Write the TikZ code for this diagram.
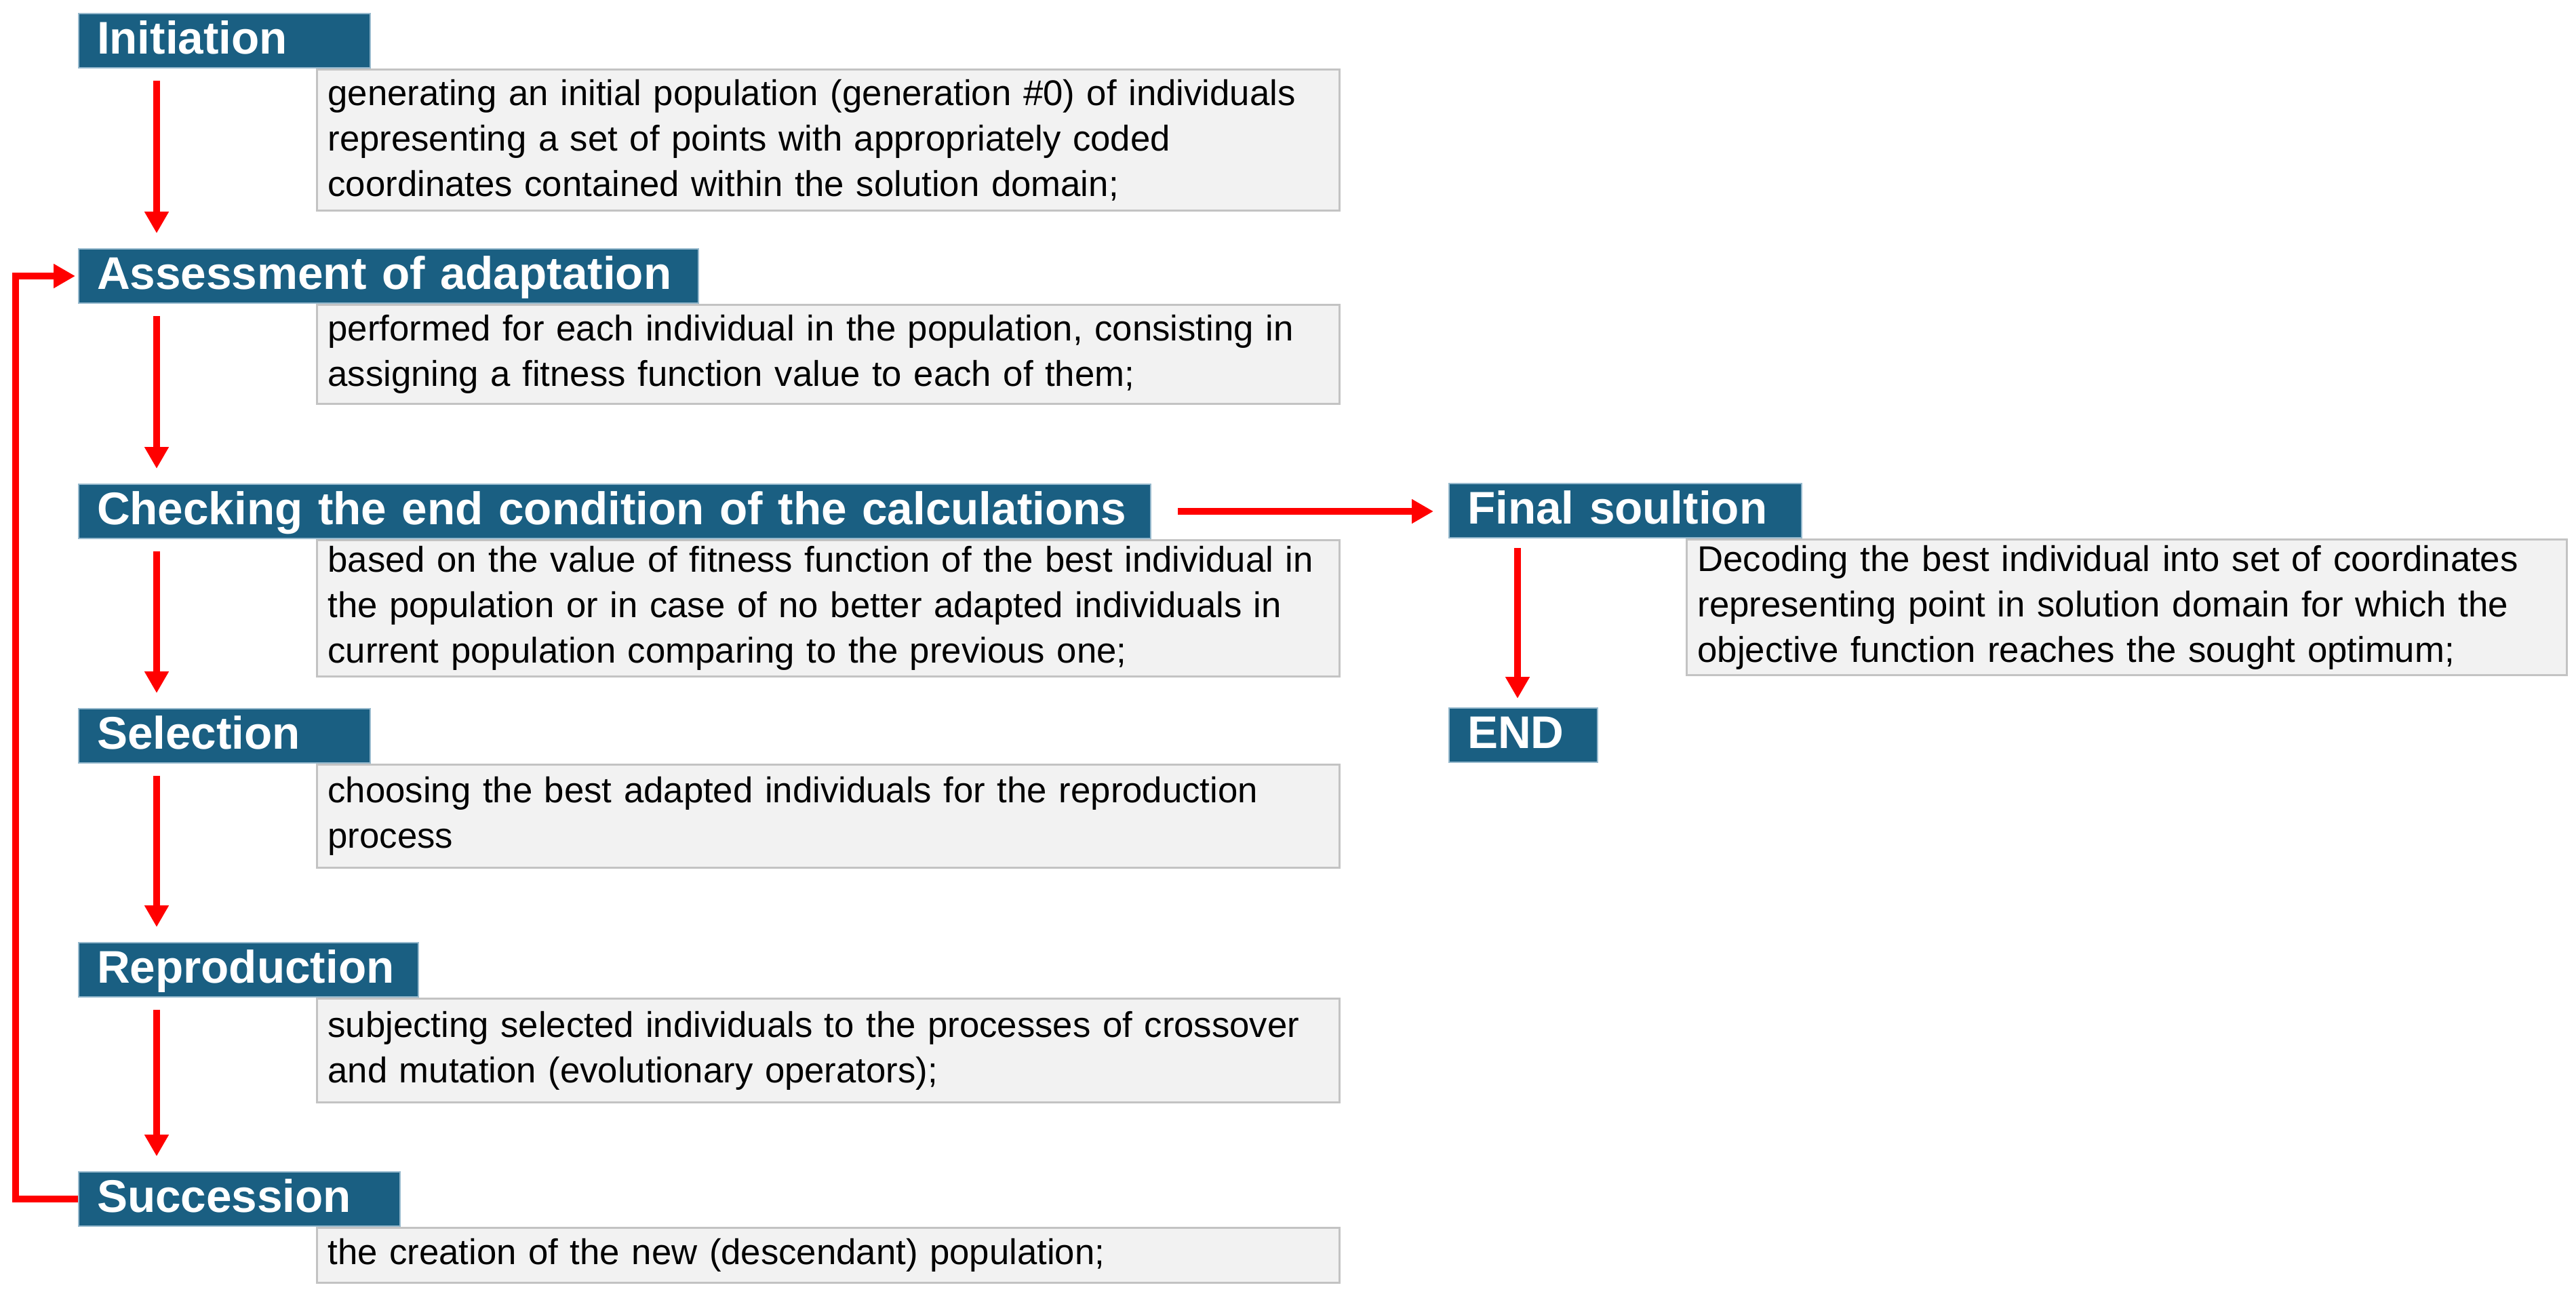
\documentclass[tikz,border=0pt]{standalone}
\usepackage{fontspec}
\setmainfont{Liberation Sans}
\usetikzlibrary{arrows.meta}

\definecolor{headblue}{RGB}{26,95,130}
\definecolor{headline}{RGB}{150,185,205}
\definecolor{boxgray}{RGB}{242,242,242}
\definecolor{boxline}{RGB}{195,195,195}

\tikzset{
	head/.style={rectangle, fill=headblue, draw=headline, line width=0.02cm, text=white, anchor=north west, align=left,
		font=\bfseries\fontsize{19.2}{23}\selectfont, inner xsep=0.27cm, inner ysep=0.09cm, text height=0.5cm, text depth=0.12cm},
	txt/.style={rectangle, fill=boxgray, draw=boxline, line width=0.03cm, anchor=north west, align=left,
		font=\fontsize{15}{19.1}\selectfont, inner xsep=0.16cm, inner ysep=0.06cm},
	flow/.style={red, line width=0.1cm, -{Triangle[length=0.32cm, width=0.34cm]}, shorten <=0.18cm, shorten >=0.22cm}
}

\begin{document}
\begin{tikzpicture}
	\useasboundingbox (0,0) rectangle (37.99,-19.10);

	% left column
	\node (init) [head, text width=3.76cm] at (1.15,-0.19) {Initiation};
	\node (inittxt) [txt, text width=14.76cm, minimum height=2.08cm] at ([xshift=3.51cm]init.south west)
	{generating an initial population (generation \#0) of individuals\\
	representing a set of points with appropriately coded\\
	coordinates contained within the solution domain;};

	\node (assess) [head, text width=8.60cm] at (1.15,-3.66) {Assessment of adaptation};
	\node (assesstxt) [txt, text width=14.76cm, minimum height=1.46cm] at ([xshift=3.51cm]assess.south west)
	{performed for each individual in the population, consisting in\\
	assigning a fitness function value to each of them;};

	\node (check) [head, text width=15.27cm] at (1.15,-7.13) {Checking the end condition of the calculations};
	\node (checktxt) [txt, text width=14.76cm, minimum height=2.01cm] at ([xshift=3.51cm]check.south west)
	{based on the value of fitness function of the best individual in\\
	the population or in case of no better adapted individuals in\\
	current population comparing to the previous one;};

	\node (select) [head, text width=3.76cm] at (1.15,-10.44) {Selection};
	\node (selecttxt) [txt, text width=14.76cm, minimum height=1.52cm] at ([xshift=3.51cm]select.south west)
	{choosing the best adapted individuals for the reproduction\\
	process};

	\node (repro) [head, text width=4.47cm] at (1.15,-13.89) {Reproduction};
	\node (reprotxt) [txt, text width=14.76cm, minimum height=1.53cm] at ([xshift=3.51cm]repro.south west)
	{subjecting selected individuals to the processes of crossover\\
	and mutation (evolutionary operators);};

	\node (succ) [head, text width=4.20cm] at (1.15,-17.27) {Succession};
	\node (succtxt) [txt, text width=14.76cm, minimum height=0.81cm] at ([xshift=3.51cm]succ.south west)
	{the creation of the new (descendant) population;};

	% right column
	\node (final) [head, text width=4.66cm] at (21.36,-7.12) {Final soultion};
	\node (finaltxt) [txt, text width=12.66cm, minimum height=2.00cm] at ([xshift=3.50cm]final.south west)
	{Decoding the best individual into set of coordinates\\
	representing point in solution domain for which the\\
	objective function reaches the sought optimum;};

	\node (finish) [head, text width=1.65cm] at (21.36,-10.43) {END};

	% arrows
	\draw[flow] ([xshift=1.16cm]init.south west) -- ([xshift=1.16cm]assess.north west);
	\draw[flow] ([xshift=1.16cm]assess.south west) -- ([xshift=1.16cm]check.north west);
	\draw[flow] ([xshift=1.16cm]check.south west) -- ([xshift=1.16cm]select.north west);
	\draw[flow] ([xshift=1.16cm]select.south west) -- ([xshift=1.16cm]repro.north west);
	\draw[flow] ([xshift=1.16cm]repro.south west) -- ([xshift=1.16cm]succ.north west);
	\draw[flow, shorten <=0.39cm] (check.east) -- (check.east -| final.west);
	\draw[flow, shorten <=0.14cm, shorten >=0.13cm] ([xshift=1.02cm]final.south west) -- ([xshift=1.02cm]finish.north west);
	\draw[flow, shorten <=0cm, shorten >=0.04cm] (succ.west) -- ++(-0.92,0) |- (assess.west);
\end{tikzpicture}
\end{document}
